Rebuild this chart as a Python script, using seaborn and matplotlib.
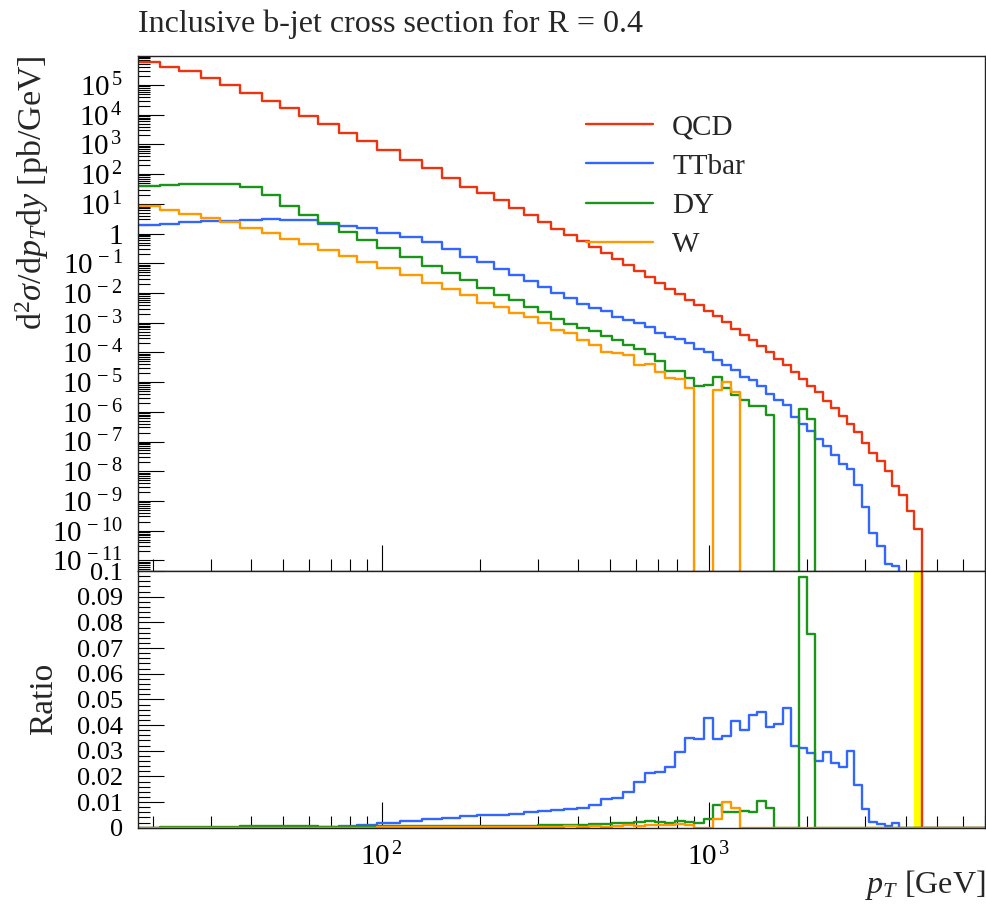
import numpy as np
import pandas as pd
import seaborn as sns
import matplotlib.pyplot as plt
from matplotlib.ticker import LogLocator, MultipleLocator, FuncFormatter, NullFormatter

# pT bin edges [GeV]
pt_edges = [18, 21, 24, 28, 32, 37, 43, 49, 56, 64, 74, 84, 97, 114, 133, 153, 174, 196, 220, 245,
            272, 300, 330, 362, 395, 430, 468, 507, 548, 592, 638, 686, 737, 790, 846, 905, 967, 1032,
            1101, 1172, 1248, 1327, 1410, 1497, 1588, 1684, 1784, 1890, 2000, 2116, 2238, 2366, 2500,
            2640, 2787, 2941, 3103, 3273, 3450, 3637, 3832, 4037, 4252, 4477, 4713, 4961, 5220, 5492,
            5777, 6076, 6389, 6717, 7000]

# log10 of d2sigma/dpTdy [pb/GeV] in each bin, None = empty bin
qcd_log10 = [5.764, 5.618, 5.472, 5.225, 5.000, 4.741, 4.461, 4.213, 3.944, 3.674,
             3.382, 3.112, 2.797, 2.483, 2.190, 1.880, 1.570, 1.350, 1.123, 0.875,
             0.617, 0.392, 0.167, -0.035, -0.248, -0.451, -0.653, -0.855, -1.046, -1.260,
             -1.462, -1.665, -1.867, -2.030, -2.226, -2.417, -2.620, -2.788, -2.979, -3.204,
             -3.406, -3.575, -3.800, -3.991, -4.216, -4.440, -4.665, -4.890, -5.115, -5.339,
             -5.620, -5.867, -6.149, -6.407, -6.688, -7.059, -7.396, -7.666, -8.003, -8.486,
             -8.790, -9.329, -9.947, None, None, None, None, None, None, None, None, None]
ttbar_log10 = [0.280, 0.325, 0.392, 0.426, 0.437, 0.460, 0.482, 0.448, 0.448, 0.330,
               0.270, 0.200, 0.030, -0.130, -0.300, -0.529, -0.780, -0.960, -1.190, -1.406,
               -1.608, -1.799, -2.002, -2.170, -2.361, -2.505, -2.605, -2.797, -2.907, -3.013,
               -3.136, -3.331, -3.491, -3.559, -3.681, -3.880, -3.990, -4.251, -4.425, -4.584,
               -4.826, -4.933, -5.145, -5.396, -5.610, -5.770, -6.160, -6.400, -6.653, -6.922,
               -7.149, -7.464, -7.773, -7.931, -8.467, -9.205, -10.078, -10.511, -11.130, -11.200,
               None, None, None, None, None, None, None, None, None, None, None, None]
dy_log10 = [1.606, 1.640, 1.673, 1.673, 1.662, 1.580, 1.300, 0.930, 0.630, 0.340,
            0.050, -0.203, -0.500, -0.805, -1.080, -1.327, -1.575, -1.822, -2.058, -2.249,
            -2.474, -2.653, -2.867, -3.058, -3.182, -3.294, -3.463, -3.597, -3.744, -3.901,
            -4.070, -4.306, -4.643, -4.631, -4.867, -5.115, -5.081, -4.834, -5.200, -5.429,
            -5.587, -5.789, -5.789, -6.104, None, None, None, -5.901, -6.238, None,
            None, None, None, None, None, None, None, None, None, None,
            None, None, None, None, None, None, None, None, None, None, None, None]
w_log10 = [0.925, 0.786, 0.656, 0.516, 0.381, 0.201, 0.016, -0.180, -0.366, -0.563,
           -0.765, -0.962, -1.170, -1.406, -1.665, -1.870, -2.058, -2.339, -2.474, -2.676,
           -2.811, -3.013, -3.260, -3.339, -3.575, -3.766, -3.991, -4.025, -4.103, -4.440,
           -4.384, -4.665, -4.856, -4.880, -5.190, None, None, -5.261, -4.980, -5.317,
           None, None, None, None, None, None, None, None, None, None,
           None, None, None, None, None, None, None, None, None, None,
           None, None, None, None, None, None, None, None, None, None, None, None]

labels = ["QCD", "TTbar", "DY", "W"]
colors = ["#EE3311", "#3366FF", "#1A951A", "#FF9900"]

sns.set_theme(style="ticks")
plt.rcParams["font.family"] = ["Liberation Serif", "DejaVu Serif"]
plt.rcParams["mathtext.fontset"] = "custom"
plt.rcParams["mathtext.rm"] = "Liberation Serif"
plt.rcParams["mathtext.it"] = "Liberation Serif:italic"
plt.rcParams["mathtext.bf"] = "Liberation Serif:bold"


def to_values(logs):
    return np.array([0.0 if v is None else 10.0 ** v for v in logs])


series = dict(zip(labels, [to_values(l) for l in [qcd_log10, ttbar_log10, dy_log10, w_log10]]))
qcd = series["QCD"]
x_steps = np.array(pt_edges, dtype=float)

fig = plt.figure(figsize=(9.87, 9.07), dpi=100)
ax = fig.add_axes([0.1398, 0.3705, 0.8582, 0.5678])
rax = fig.add_axes([0.1398, 0.0874, 0.8582, 0.2830])
for a in (ax, rax):
    a.set_xscale("log")
ax.set_yscale("log")

# yellow band: reference (QCD) uncertainty in its last filled bin
last = np.nonzero(qcd)[0][-1]
rax.fill_between([pt_edges[last], pt_edges[last + 1]], 0, 2, color="#FFFF00", lw=0, zorder=1)

for name, c in zip(labels, colors):
    v = series[name]
    y = np.append(v, v[-1])
    y_top = np.where(y > 0, y, 1e-30)
    sns.lineplot(x=x_steps, y=y_top, ax=ax, color=c, lw=1.7, drawstyle="steps-post",
                 estimator=None, sort=False, label=name)
    ratio = np.where(qcd > 0, v / np.where(qcd > 0, qcd, 1.0), 0.0)
    r = np.append(ratio, ratio[-1])
    sns.lineplot(x=x_steps, y=r, ax=rax, color=c, lw=1.7, drawstyle="steps-post",
                 estimator=None, sort=False, legend=False)

ax.set_xlim(18, 7000)
rax.set_xlim(18, 7000)
ax.set_ylim(4.4e-12, 9.5e5)
rax.set_ylim(0, 0.1)


def log_label(v, pos):
    n = int(round(np.log10(v)))
    return "1" if n == 0 else r"$10^{\,%d}$" % n


def ratio_label(v, pos):
    if abs(v) < 1e-9:
        return "0"
    return ("%.2f" % v).rstrip("0")


ax.yaxis.set_major_locator(LogLocator(base=10, subs=(1.0,), numticks=40))
ax.yaxis.set_minor_locator(LogLocator(base=10, subs=np.arange(2, 10), numticks=40))
ax.yaxis.set_major_formatter(FuncFormatter(log_label))
ax.yaxis.set_minor_formatter(NullFormatter())
for a in (ax, rax):
    a.xaxis.set_major_locator(LogLocator(base=10, subs=(1.0,), numticks=20))
    a.xaxis.set_minor_locator(LogLocator(base=10, subs=np.arange(2, 10), numticks=20))
    a.xaxis.set_minor_formatter(NullFormatter())
ax.xaxis.set_major_formatter(NullFormatter())
rax.xaxis.set_major_formatter(FuncFormatter(log_label))
rax.yaxis.set_major_locator(MultipleLocator(0.01))
rax.yaxis.set_minor_locator(MultipleLocator(0.002))
rax.yaxis.set_major_formatter(FuncFormatter(ratio_label))

for a in (ax, rax):
    a.tick_params(which="both", direction="in", top=False, right=False, width=0.8,
                  colors="black", labelsize=21, pad=11)
    a.tick_params(which="major", length=19)
    a.tick_params(which="minor", length=8.5)
    for s in a.spines.values():
        s.set_visible(True)
        s.set_linewidth(1.0)
        s.set_color("#222222")
    a.set_xlabel("")
    a.set_ylabel("")
ax.tick_params(labelbottom=False)
rax.tick_params(axis="y", labelsize=19)

handles, leg_labels = ax.get_legend_handles_labels()
ax.legend(handles, leg_labels, loc="upper left", bbox_to_anchor=(0.5937, 0.8743),
          bbox_transform=fig.transFigure, frameon=False, fontsize=21, handlelength=2.3,
          handletextpad=0.65, labelspacing=0.44, borderpad=0, borderaxespad=0)

fig.text(0.1398, 0.965, "Inclusive b-jet cross section for R = 0.4", fontsize=23,
         ha="left", va="baseline")
fig.text(0.0324, 0.9383, r"$\mathrm{d}^2\sigma/\mathrm{d}p_T\mathrm{d}y$ [pb/GeV]", fontsize=24.5,
         rotation=90, ha="center", va="top")
fig.text(0.0446, 0.2293, "Ratio", fontsize=24, rotation=90, ha="center", va="center")
fig.text(0.998, 0.0154, r"$p_T$ [GeV]", fontsize=23, ha="right", va="baseline")

fig.savefig("out.png", dpi=100)
